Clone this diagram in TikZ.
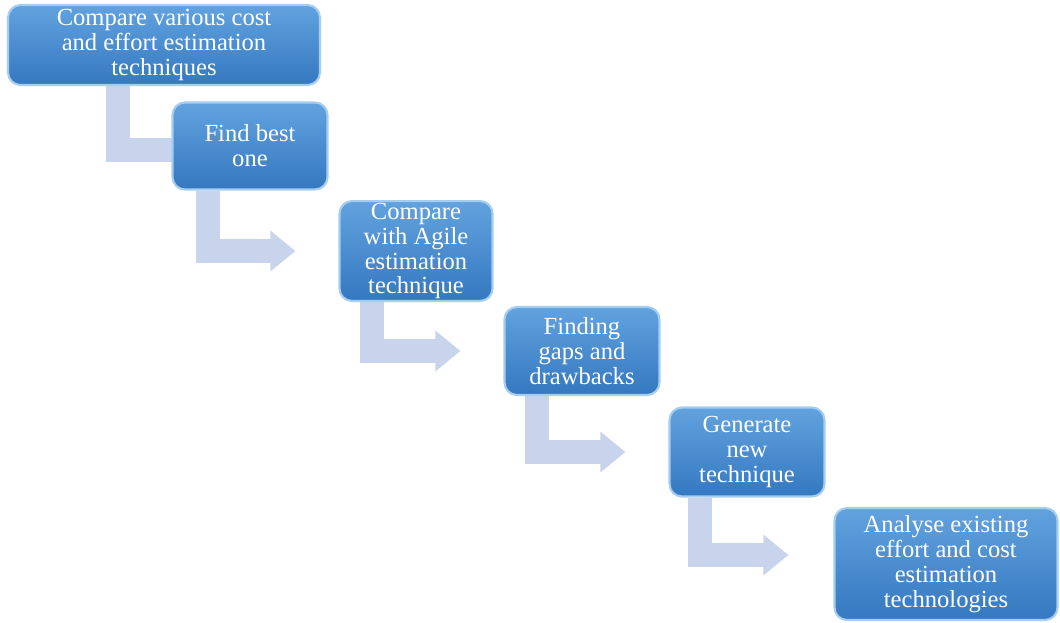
\documentclass[tikz,border=0pt]{standalone}
\usepackage{fontspec}
\setmainfont{Liberation Serif}
\usetikzlibrary{arrows.meta,backgrounds}

\definecolor{boxtop}{RGB}{98,162,222}
\definecolor{boxbot}{RGB}{52,120,192}
\definecolor{boxline}{RGB}{165,205,240}
\definecolor{arrowfill}{RGB}{200,212,236}

\begin{document}
\begin{tikzpicture}[x=0.02cm, y=-0.02cm,
  stepbox/.style={rounded corners=0.25cm, draw=boxline, line width=1.2pt,
    top color=boxtop, bottom color=boxbot, text=white, align=center,
    inner sep=1pt, font=\fontsize{14}{14.2}\selectfont},
  bendarrow/.style={draw=arrowfill, line width=0.48cm,
    -{Triangle[length=0.5cm,width=0.78cm]}}]
  \useasboundingbox (0, 0) rectangle (1060, 622);

  \node[stepbox, minimum width=6.24cm, minimum height=1.6cm] (compare) at (164, 45)
    {Compare various  cost\\and effort estimation\\techniques};
  \node[stepbox, minimum width=3.1cm, minimum height=1.74cm] (best) at (250, 146)
    {Find best\\one};
  \node[stepbox, minimum width=3.06cm, minimum height=1.94cm] (agile) at (416, 251)
    {Compare\\with Agile\\estimation\\technique};
  \node[stepbox, minimum width=3.1cm, minimum height=1.76cm] (gaps) at (582, 351)
    {Finding\\gaps and\\drawbacks};
  \node[stepbox, minimum width=3.1cm, minimum height=1.78cm] (generate) at (747, 452)
    {Generate\\new\\technique};
  \node[stepbox, minimum width=4.46cm, minimum height=2.24cm] (analyse) at (946, 564)
    {Analyse existing\\effort and cost\\estimation\\technologies};

  % bent arrows behind the boxes
  \begin{scope}[on background layer]
    \coordinate (a1) at ([xshift=0.8cm, yshift=-0.08cm]best.west);
    \coordinate (a2) at ([xshift=-0.86cm]agile.west);
    \coordinate (a3) at ([xshift=-0.86cm]gaps.west);
    \coordinate (a4) at ([xshift=-0.86cm]generate.west);
    \coordinate (a5) at ([xshift=-0.9cm, yshift=0.18cm]analyse.west);
    \draw[bendarrow] ([xshift=-0.92cm]compare.south) |- (a1);
    \draw[bendarrow] ([xshift=-0.84cm]best.south) |- (a2);
    \draw[bendarrow] ([xshift=-0.88cm]agile.south) |- (a3);
    \draw[bendarrow] ([xshift=-0.9cm]gaps.south) |- (a4);
    \draw[bendarrow] ([xshift=-0.94cm]generate.south) |- (a5);
  \end{scope}
\end{tikzpicture}
\end{document}
